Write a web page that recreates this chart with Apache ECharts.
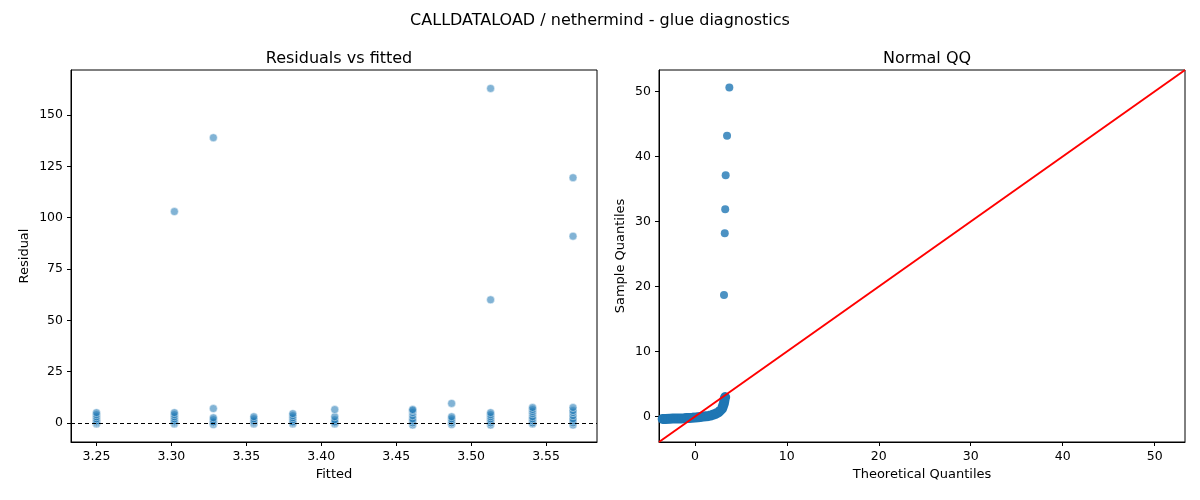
<!DOCTYPE html>
<html><head><meta charset="utf-8">
<script src="https://cdn.jsdelivr.net/npm/echarts@6/dist/echarts.min.js"></script>
<style>html,body{margin:0;background:#fff}#c{width:1200px;height:500px}</style>
</head><body><div id="c"></div>
<script>
// residuals grouped by fitted value
const fitted = [3.250, 3.302, 3.328, 3.355, 3.381, 3.409, 3.461, 3.487, 3.513, 3.541, 3.568]
const residuals = [
  [-0.5, 0, 0.5, 1, 2, 3, 4, 5],
  [-0.5, 0, 0.5, 1, 2, 3, 4, 5, 103],
  [-0.8, 0, 0.5, 1.5, 2.5, 7, 139],
  [-0.5, 0, 0.5, 1, 2, 3],
  [-0.5, 0, 0.5, 1.5, 2.5, 3.5, 4.5],
  [-0.5, 0, 0.5, 1.5, 3, 6.5],
  [-1, 0, 1, 2, 3.5, 5, 6, 6.5],
  [-0.8, 0, 1, 2, 3, 9.5],
  [-1, 0, 1, 2, 3, 4, 5, 60, 163],
  [-0.5, 0, 1, 2, 3, 4.5, 5.5, 6.5, 7.5],
  [-1, 0, 1, 2, 3.5, 5, 6, 7.5, 91, 119.5]
]
const fittedTicks = [3.25, 3.30, 3.35, 3.40, 3.45, 3.50, 3.55]
const residualTicks = [0, 25, 50, 75, 100, 125, 150]
// normal QQ: theoretical vs sample quantiles
const qqTheo = [-3.5, -3.2, -3.0, -2.7, -2.4, -2.1, -1.8, -1.5, -1.2, -0.9, -0.6, -0.3, 0, 0.3, 0.6,
  0.9, 1.2, 1.5, 1.8, 2.0, 2.2, 2.4, 2.6, 2.8, 2.95, 3.05, 3.15, 3.2, 3.25, 3.3, 3.17, 3.25, 3.3, 3.35, 3.5, 3.75]
const qqSample = [-0.35, -0.35, -0.33, -0.32, -0.3, -0.3, -0.28, -0.27, -0.25, -0.22, -0.2, -0.18, -0.15, -0.1, -0.05,
  0, 0.05, 0.1, 0.2, 0.3, 0.4, 0.5, 0.7, 0.9, 1.2, 1.6, 2.0, 2.4, 2.8, 3.0, 18.7, 28.2, 31.9, 37.1, 43.2, 50.6]
const qqTicks = [0, 10, 20, 30, 40, 50]
const qqRange = [-3.9, 53.3]

const resPoints = []
fitted.forEach((f, i) => residuals[i].forEach(r => resPoints.push([f, r])))
const qqPoints = qqTheo.map((t, i) => [t, qqSample[i]])

const font = 'DejaVu Sans'
const axis = (ticks, fmt) => ({
  axisLine: { show: true, onZero: false, lineStyle: { color: '#000' } },
  axisTick: { show: true, length: 4, customValues: ticks, lineStyle: { color: '#000' } },
  axisLabel: { color: '#000', fontSize: 12.5, fontFamily: font, customValues: ticks, formatter: fmt },
  splitLine: { show: false },
  nameLocation: 'middle',
  nameTextStyle: { color: '#000', fontSize: 13, fontFamily: font }
})
const titleStyle = { fontSize: 16, fontWeight: 'normal', fontFamily: font, color: '#000' }
const chart = echarts.init(document.getElementById('c'))
chart.setOption({
  animation: false,
  title: [
    { text: 'CALLDATALOAD / nethermind - glue diagnostics', left: 'center', top: 8, textStyle: titleStyle },
    { text: 'Residuals vs fitted', left: 334, textAlign: 'center', top: 46, textStyle: titleStyle },
    { text: 'Normal QQ', left: 922, textAlign: 'center', top: 46, textStyle: titleStyle }
  ],
  grid: [
    { left: 71, width: 526, top: 70, height: 372, show: true, borderColor: '#000', borderWidth: 1 },
    { left: 659, width: 526, top: 70, height: 372, show: true, borderColor: '#000', borderWidth: 1 }
  ],
  xAxis: [
    { ...axis(fittedTicks, v => v.toFixed(2)), gridIndex: 0, type: 'value', min: 3.233, max: 3.584, name: 'Fitted', nameGap: 26 },
    { ...axis(qqTicks), gridIndex: 1, type: 'value', min: qqRange[0], max: qqRange[1], name: 'Theoretical Quantiles', nameGap: 26 }
  ],
  yAxis: [
    { ...axis(residualTicks), gridIndex: 0, type: 'value', min: -9.3, max: 172, name: 'Residual', nameGap: 40 },
    { ...axis(qqTicks), gridIndex: 1, type: 'value', min: qqRange[0], max: qqRange[1], name: 'Sample Quantiles', nameGap: 32 }
  ],
  series: [
    { type: 'scatter', xAxisIndex: 0, yAxisIndex: 0, data: resPoints, symbolSize: 8,
      itemStyle: { color: 'rgba(31,119,180,0.7)', borderColor: '#fff', borderWidth: 0.6 },
      markLine: { silent: true, symbol: 'none', label: { show: false }, lineStyle: { color: '#000', type: [4, 3], width: 1 }, data: [{ yAxis: 0 }] } },
    { type: 'line', xAxisIndex: 1, yAxisIndex: 1, data: qqPoints.slice(0, 30), showSymbol: false,
      lineStyle: { color: '#1f77b4', width: 10, cap: 'round', join: 'round' }, z: 2 },
    { type: 'scatter', xAxisIndex: 1, yAxisIndex: 1, data: qqPoints, symbolSize: 8, itemStyle: { color: '#1f77b4' }, z: 2 },
    { type: 'line', xAxisIndex: 1, yAxisIndex: 1, data: [[qqRange[0], qqRange[0]], [qqRange[1], qqRange[1]]], showSymbol: false,
      lineStyle: { color: 'red', width: 2 }, z: 3 }
  ]
})
</script></body></html>
